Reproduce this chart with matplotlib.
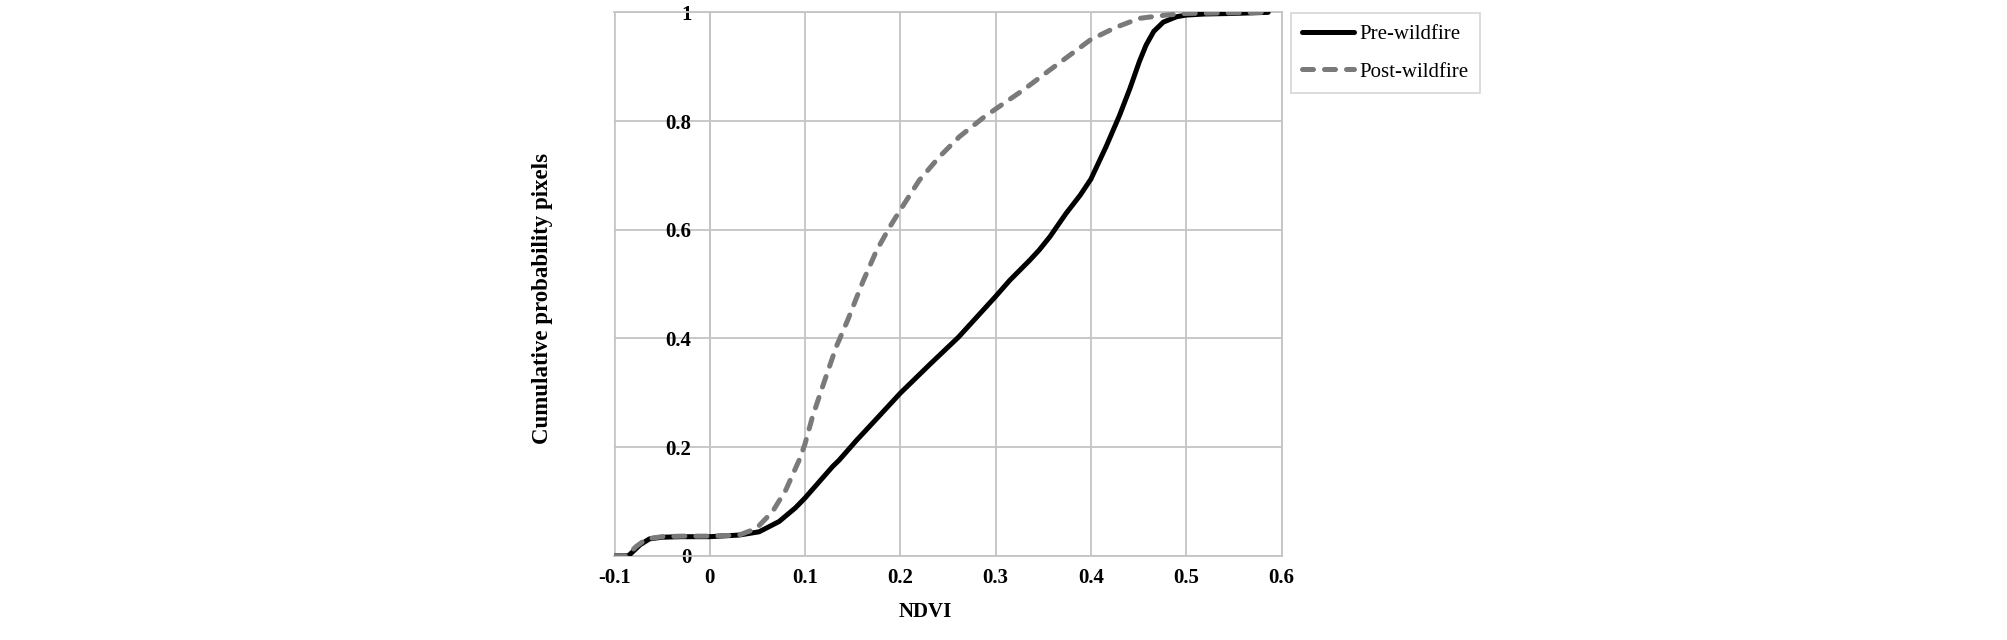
import numpy as np
import matplotlib
matplotlib.use("Agg")
import matplotlib.pyplot as plt

plt.rcParams['font.family'] = ['Liberation Serif', 'DejaVu Serif']

# NDVI vs cumulative probability
pre_x = [-0.1, -0.085, -0.073, -0.063, -0.05, -0.03, 0.0, 0.031, 0.052, 0.073, 0.09, 0.1,
         0.115, 0.129, 0.136, 0.154, 0.171, 0.2, 0.231, 0.261, 0.3, 0.315, 0.336, 0.346,
         0.357, 0.374, 0.389, 0.4, 0.416, 0.43, 0.441, 0.451, 0.458, 0.466, 0.476, 0.49, 0.5,
         0.52, 0.55, 0.586]
pre_y = [0.0, 0.0, 0.020, 0.031, 0.034, 0.035, 0.035, 0.038, 0.044, 0.063, 0.088, 0.106,
         0.136, 0.164, 0.176, 0.212, 0.244, 0.299, 0.352, 0.402, 0.477, 0.507, 0.544, 0.563,
         0.587, 0.630, 0.664, 0.693, 0.753, 0.810, 0.860, 0.910, 0.940, 0.965, 0.982, 0.992, 0.995,
         0.997, 0.998, 1.0]

post_x = [-0.1, -0.087, -0.077, -0.066, -0.05, -0.03, 0.0, 0.031, 0.049, 0.066, 0.08, 0.094,
          0.1, 0.108, 0.122, 0.133, 0.145, 0.161, 0.175, 0.189, 0.2, 0.22, 0.241, 0.262,
          0.287, 0.3, 0.329, 0.357, 0.4, 0.427, 0.451, 0.479, 0.5, 0.54, 0.586]
post_y = [0.0, 0.0, 0.017, 0.031, 0.035, 0.036, 0.036, 0.038, 0.050, 0.081, 0.121, 0.176,
          0.205, 0.256, 0.329, 0.385, 0.434, 0.505, 0.561, 0.605, 0.636, 0.691, 0.734, 0.771,
          0.806, 0.822, 0.857, 0.894, 0.950, 0.973, 0.989, 0.995, 0.998, 0.999, 1.0]

x_ticks = [-0.1, 0, 0.1, 0.2, 0.3, 0.4, 0.5, 0.6]
x_labels = ['-0.1', '0', '0.1', '0.2', '0.3', '0.4', '0.5', '0.6']
y_ticks = [0, 0.2, 0.4, 0.6, 0.8, 1.0]
y_labels = ['0', '0.2', '0.4', '0.6', '0.8', '1']

grid_col = '#c4c4c4'

fig = plt.figure(figsize=(20.08, 6.4), dpi=100)
ax = fig.add_axes([0.3059, 0.1317, 0.3323, 0.849])

# y axis crosses at x = 0 like the original (do this before tick setup, it resets ticks)
ax.spines['left'].set_position(('data', 0))
for s in ax.spines.values():
    s.set_color(grid_col)
    s.set_linewidth(1.3)

ax.plot(pre_x, pre_y, color='black', lw=3.6, solid_capstyle='round', solid_joinstyle='round',
        label='Pre-wildfire', zorder=3)
ax.plot(post_x, post_y, color='#7a7a7a', lw=3.6, linestyle=(0, (2.2, 2.2)),
        dash_capstyle='round', label='Post-wildfire', zorder=4)

ax.set_xlim(-0.1, 0.6)
ax.set_ylim(0, 1)
ax.set_xticks(x_ticks)
ax.set_xticklabels(x_labels, fontsize=15, fontweight='bold')
ax.set_yticks(y_ticks)
ax.set_yticklabels(y_labels, fontsize=15, fontweight='bold')
ax.tick_params(axis='both', length=0)
ax.tick_params(axis='x', pad=9)
ax.tick_params(axis='y', pad=13)
ax.grid(True, color=grid_col, lw=1.3, zorder=0)
ax.set_axisbelow(True)
ax.axvline(-0.1, color=grid_col, lw=2.6, zorder=0)

ax.set_xlabel('NDVI', fontsize=15, fontweight='bold')
ax.xaxis.set_label_coords(0.466, -0.085)
fig.text(0.2704, 0.533, 'Cumulative probability pixels', rotation=90, fontsize=16.5,
         fontweight='bold', ha='center', va='center')

leg = ax.legend(loc='upper left', bbox_to_anchor=(0.6428, 0.9792), bbox_transform=fig.transFigure,
                borderaxespad=0, fancybox=False, edgecolor='#cfcfcf', fontsize=15,
                handlelength=2.5, labelspacing=0.85, handletextpad=0.25, borderpad=0.55)
leg.get_frame().set_linewidth(1.3)

fig.savefig('out.png', dpi=100)
